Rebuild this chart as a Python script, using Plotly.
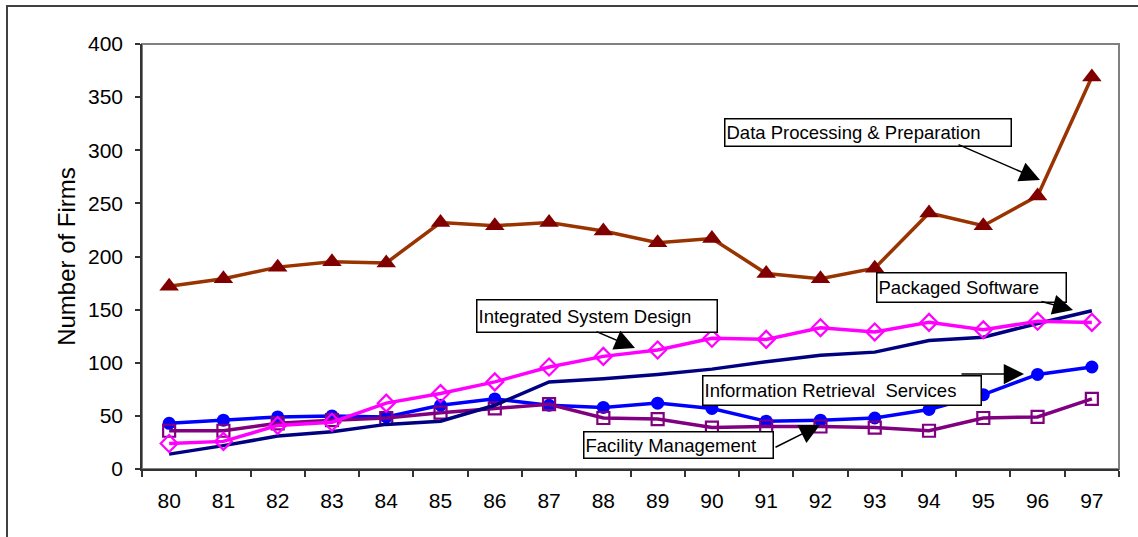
import plotly.graph_objects as go

years = ["80", "81", "82", "83", "84", "85", "86", "87", "88", "89",
         "90", "91", "92", "93", "94", "95", "96", "97"]

data_processing = [172, 179, 190, 195, 194, 232, 229, 232, 224, 213,
                   217, 184, 179, 189, 241, 229, 257, 369]
integrated_design = [24, 26, 41, 44, 62, 71, 82, 96, 106, 112,
                     123, 122, 133, 129, 138, 131, 139, 138]
packaged_software = [14, 22, 31, 35, 42, 45, 60, 82, 85, 89,
                     94, 101, 107, 110, 121, 124, 137, 149]
info_retrieval = [43, 46, 49, 50, 49, 60, 66, 60, 58, 62,
                  57, 45, 46, 48, 56, 70, 89, 96]
facility_mgmt = [36, 36, 43, 46, 48, 53, 57, 61, 48, 47,
                 39, 40, 40, 39, 36, 48, 49, 66]

y_ticks = [0, 50, 100, 150, 200, 250, 300, 350, 400]

W, H = 1138, 537
PL, PR, PT, PB = 142, 1119, 44, 469


def px(x):
    return (x - PL) / (PR - PL)


def py(y):
    return (PB - y) / (PB - PT)


fig = go.Figure()

fig.add_trace(go.Scatter(
    x=years, y=info_retrieval, mode="lines+markers", name="Information Retrieval Services",
    line=dict(color="#0000FF", width=3.5),
    marker=dict(symbol="circle", size=13, color="#0000FF")))
fig.add_trace(go.Scatter(
    x=years, y=facility_mgmt, mode="lines+markers", name="Facility Management",
    line=dict(color="#800080", width=3.5),
    marker=dict(symbol="square-open", size=12, color="#800080", line=dict(width=2.2))))
fig.add_trace(go.Scatter(
    x=years, y=packaged_software, mode="lines", name="Packaged Software",
    line=dict(color="#000080", width=3.5)))
fig.add_trace(go.Scatter(
    x=years, y=integrated_design, mode="lines+markers", name="Integrated System Design",
    line=dict(color="#FF00FF", width=3.5),
    marker=dict(symbol="diamond-open", size=13, color="#FF00FF", line=dict(width=2.2))))
fig.add_trace(go.Scatter(
    x=years, y=data_processing, mode="lines+markers", name="Data Processing & Preparation",
    line=dict(color="#993300", width=3.5),
    marker=dict(symbol="triangle-up", size=17, color="#800000")))

annots = []


def box(text, x0, y0, x1, y1):
    bw, bp = 1.5, 1
    annots.append(dict(
        text=text, xref="paper", yref="paper", x=px(x0), y=py(y0),
        xanchor="left", yanchor="top", showarrow=False,
        width=(x1 - x0) - 2 * bp - 2 * bw, height=(y1 - y0) - 2 * bp - 2 * bw,
        align="left", valign="middle", bgcolor="white", bordercolor="black",
        borderwidth=bw, borderpad=bp,
        font=dict(family="Liberation Sans, Arial", size=18.5, color="black")))


def arrow(tx, ty, hx, hy):
    annots.append(dict(
        text="", xref="paper", yref="paper", x=px(hx), y=py(hy),
        ax=tx - hx, ay=ty - hy, axref="pixel", ayref="pixel",
        showarrow=True, arrowhead=2, arrowsize=2.7, arrowwidth=1.5,
        arrowcolor="black", standoff=0, startstandoff=0))


box("Data Processing & Preparation", 724, 118, 1012, 147)
arrow(957, 144, 1040, 180)
box("Integrated System Design", 476, 299, 718, 333)
arrow(595, 331, 635, 348)
box("Packaged Software", 876, 272, 1067, 303)
arrow(1040, 301, 1073, 310)
box("Information Retrieval  Services", 702, 375, 982, 406)
arrow(960, 374, 1024, 374)
box("Facility Management", 583, 431, 774, 459)
arrow(774, 448, 820, 425)

shapes = [
    dict(type="rect", xref="paper", yref="paper", x0=0, x1=1, y0=0, y1=1,
         line=dict(color="#808080", width=2), layer="below"),
    dict(type="rect", xref="paper", yref="paper",
         x0=px(7), x1=px(1160), y0=py(560), y1=py(6),
         line=dict(color="#404040", width=2), layer="below"),
]

fig.update_layout(
    width=W, height=H,
    margin=dict(l=PL, r=W - PR, t=PT, b=H - PB, autoexpand=False),
    paper_bgcolor="white", plot_bgcolor="white",
    showlegend=False,
    font=dict(family="Liberation Sans, Arial", color="black"),
    annotations=annots, shapes=shapes,
    xaxis=dict(
        type="category", categoryorder="array", categoryarray=years,
        range=[-0.5, 17.5], tickson="boundaries",
        showline=True, linecolor="#333333", linewidth=1.5,
        ticks="outside", ticklen=6, tickcolor="#333333", tickwidth=1.5,
        showgrid=False, zeroline=False, ticklabelstandoff=12,
        tickfont=dict(size=21, color="black")),
    yaxis=dict(
        range=[0, 400], tickvals=y_ticks,
        showline=True, linecolor="#333333", linewidth=1.5,
        ticks="outside", ticklen=5, tickcolor="#333333", tickwidth=1.5,
        showgrid=False, zeroline=False, ticklabelstandoff=8,
        tickfont=dict(size=21, color="black"),
        title=dict(text="Number of Firms", font=dict(size=24, color="black"), standoff=6)),
)

fig.write_html("out.html",
               config={"displayModeBar": False},
               post_script="document.body.style.margin='0';document.body.style.overflow='hidden';")
